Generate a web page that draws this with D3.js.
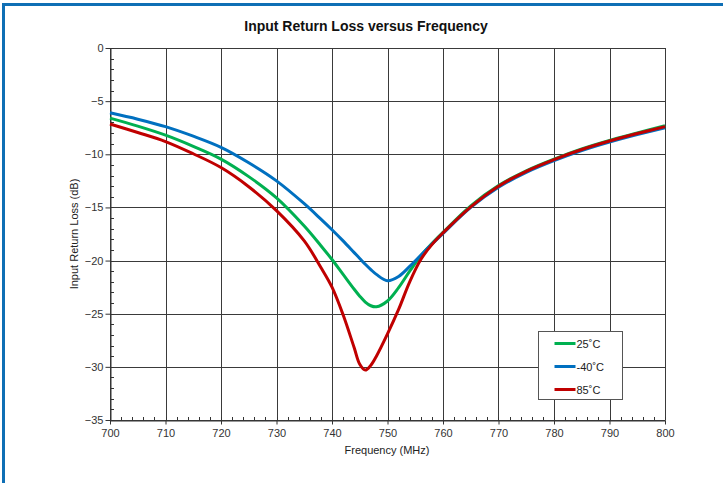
<!DOCTYPE html>
<html><head><meta charset="utf-8">
<script src="https://cdn.jsdelivr.net/npm/d3@7"></script>
<style>
body{margin:0;background:#fff;}
svg{display:block;font-family:"Liberation Sans",Arial,sans-serif;}
</style></head>
<body><svg id="c" width="723" height="483"></svg>
<script>
const freqs = [700,705,710,715,720,725,730,735,738,740,742,744,745,746,747,748,750,752,754,756,758,760,765,770,775,780,785,790,795,800];
const s25 = [-6.6,-7.35,-8.2,-9.25,-10.45,-12.1,-14.1,-16.75,-18.6,-19.9,-21.3,-22.7,-23.35,-23.9,-24.25,-24.35,-23.8,-22.55,-21.0,-19.55,-18.4,-17.35,-14.85,-12.95,-11.55,-10.45,-9.5,-8.7,-8.0,-7.3];
const sM40 = [-6.1,-6.7,-7.4,-8.3,-9.35,-10.8,-12.5,-14.65,-16.1,-17.1,-18.15,-19.25,-19.8,-20.35,-20.85,-21.3,-21.9,-21.5,-20.55,-19.5,-18.45,-17.45,-15.0,-13.1,-11.7,-10.6,-9.65,-8.85,-8.15,-7.5];
const s85 = [-7.15,-7.95,-8.8,-9.95,-11.25,-13.05,-15.3,-18.15,-20.65,-22.5,-25.1,-28.2,-29.75,-30.3,-29.85,-29.0,-26.9,-24.6,-22.0,-19.9,-18.5,-17.4,-14.95,-13.0,-11.6,-10.5,-9.55,-8.75,-8.05,-7.4];
const seriesNames = ["25˚C","-40˚C","85˚C"];
const seriesColors = ["#00b050","#0070c0","#c00000"];
const xTicks = [700,710,720,730,740,750,760,770,780,790,800];
const yTicks = [0,-5,-10,-15,-20,-25,-30,-35];
const title = "Input Return Loss versus Frequency";
const xLabel = "Frequency (MHz)";
const yLabel = "Input Return Loss (dB)";

const svg = d3.select("#c");
// outer blue frame
svg.append("rect").attr("x",3.5).attr("y",4.5).attr("width",740).attr("height",500)
  .attr("fill","none").attr("stroke","#0f6fb5").attr("stroke-width",3);

const L=110, R=665, T=48, B=420;
const x = d3.scaleLinear().domain([700,800]).range([L,R]);
const y = d3.scaleLinear().domain([-35,0]).range([B,T]);

const g = svg.append("g");
// grid
g.selectAll(".vg").data(xTicks).enter().append("line")
  .attr("x1",d=>Math.round(x(d))+0.5).attr("x2",d=>Math.round(x(d))+0.5)
  .attr("y1",T).attr("y2",B).attr("stroke","#3a3a3a").attr("stroke-width",1);
g.selectAll(".hg").data(yTicks).enter().append("line")
  .attr("y1",d=>Math.round(y(d))+0.5).attr("y2",d=>Math.round(y(d))+0.5)
  .attr("x1",L).attr("x2",R).attr("stroke","#3a3a3a").attr("stroke-width",1);

// axes with minor ticks
const xMinor = d3.range(700,801,2);
const yMinor = d3.range(-35,0.1,1);
g.selectAll(".xm").data(xMinor).enter().append("line")
  .attr("x1",d=>Math.round(x(d))+0.5).attr("x2",d=>Math.round(x(d))+0.5)
  .attr("y1",B+0.5).attr("y2",B-3).attr("stroke","#333");
g.selectAll(".ym").data(yMinor).enter().append("line")
  .attr("y1",d=>Math.round(y(d))+0.5).attr("y2",d=>Math.round(y(d))+0.5)
  .attr("x1",L+0.5).attr("x2",L+4).attr("stroke","#333");

const xAxis = g.append("g").attr("transform",`translate(0,${Math.round(B)+0.5})`)
  .call(d3.axisBottom(x).tickValues(xTicks).tickSize(4).tickSizeOuter(0).tickFormat(d3.format("d")));
const yAxis = g.append("g").attr("transform",`translate(${L+0.5},0)`)
  .call(d3.axisLeft(y).tickValues(yTicks).tickSize(5).tickSizeOuter(0).tickFormat(d=>d===0?"0":d3.format("d")(d)));
[xAxis,yAxis].forEach(a=>{
  a.select(".domain").attr("stroke","#333");
  a.selectAll(".tick line").attr("stroke","#333");
  a.selectAll("text").attr("font-family","Liberation Sans, Arial, sans-serif").attr("font-size",11).attr("fill","#333");
});
xAxis.selectAll("text").attr("dy","0.9em");
yAxis.selectAll("text").attr("x",-7);

// lines
const line = d3.line().x((d,i)=>x(freqs[i])).y(d=>y(d)).curve(d3.curveCatmullRom.alpha(0.5));
[s25,sM40,s85].forEach((s,i)=>{
  g.append("path").attr("d",line(s)).attr("fill","none")
   .attr("stroke",seriesColors[i]).attr("stroke-width",3).attr("stroke-linejoin","round");
});

// title & labels
svg.append("text").attr("x",366).attr("y",31).attr("text-anchor","middle")
  .attr("font-size",14).attr("font-weight","bold").attr("fill","#111").text(title);
svg.append("text").attr("x",387).attr("y",454).attr("text-anchor","middle")
  .attr("font-size",11).attr("fill","#222").text(xLabel);
svg.append("text").attr("transform","translate(78,234) rotate(-90)").attr("text-anchor","middle")
  .attr("font-size",11).attr("fill","#222").text(yLabel);

// legend
const lg = svg.append("g").attr("transform","translate(538.5,331.5)");
lg.append("rect").attr("width",84).attr("height",68).attr("fill","#fff").attr("stroke","#555").attr("stroke-width",1);
seriesNames.forEach((n,i)=>{
  const yy = 12 + i*23;
  lg.append("line").attr("x1",16).attr("x2",37).attr("y1",yy).attr("y2",yy)
    .attr("stroke",seriesColors[i]).attr("stroke-width",3);
  lg.append("text").attr("x",38).attr("y",yy+4).attr("font-size",11).attr("fill","#222").text(n);
});
</script></body></html>
